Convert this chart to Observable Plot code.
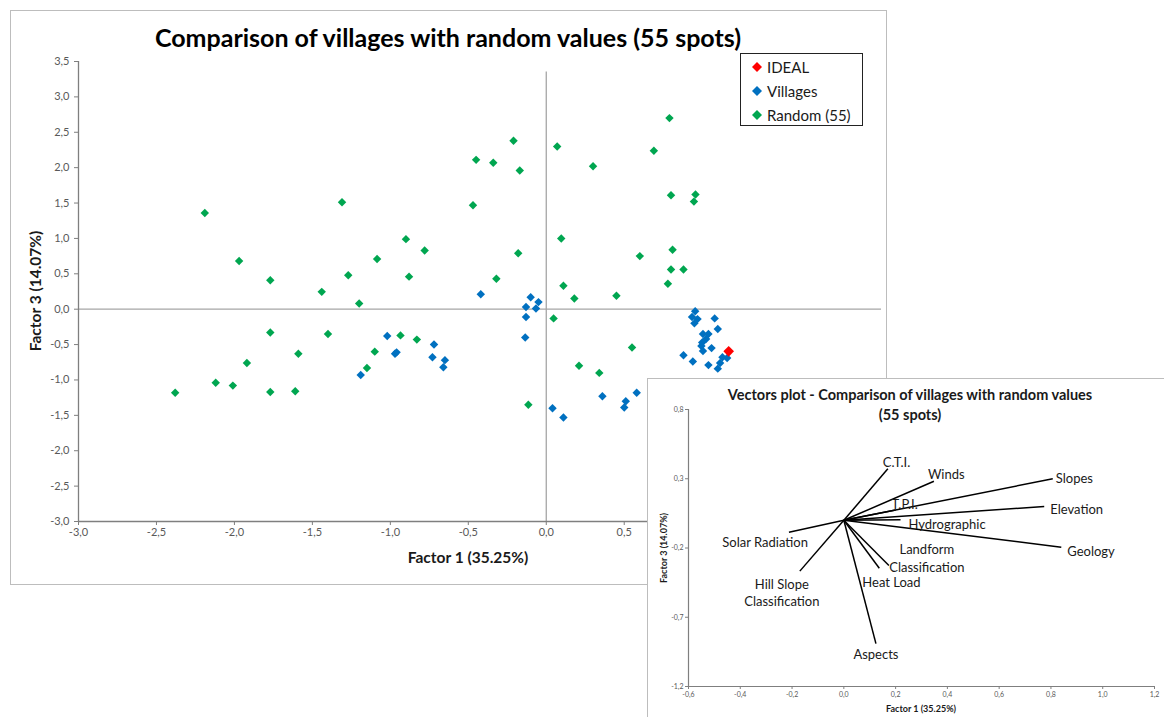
<!DOCTYPE html>
<html>
<head>
<meta charset="utf-8">
<script src="https://cdn.jsdelivr.net/npm/d3@7"></script>
<script src="https://cdn.jsdelivr.net/npm/@observablehq/plot@0.6"></script>
<style>
  html, body { margin: 0; padding: 0; background: #fff; }
  body { position: relative; width: 1164px; height: 717px; overflow: hidden; font-family: Lato, "Noto Sans", sans-serif; }
  .abs { position: absolute; white-space: nowrap; }
  .center { transform: translate(-50%, -50%); }
  #mainBox { position: absolute; left: 10px; top: 10px; width: 877px; height: 575px; box-sizing: border-box; border: 1.5px solid #bdbdbd; }
  #mainTitle { font-weight: 700; font-size: 25px; color: #000; }
  .axisTitle { font-weight: 700; font-size: 15.5px; color: #1a1a1a; }
  #legend { position: absolute; left: 740px; top: 53px; width: 123px; height: 73px; box-sizing: border-box; border: 1px solid #222; background: #fff; font-size: 15px; color: #1a1a1a; }
  #legend .row { position: absolute; left: 11px; height: 16px; line-height: 16px; white-space: nowrap; }
  #legend svg { position: absolute; left: 0; top: 3px; }
  #legend span { position: absolute; left: 15px; top: 0; white-space: nowrap; }
  #inset { position: absolute; left: 647px; top: 378px; width: 530px; height: 350px; box-sizing: border-box; border: 1.5px solid #bdbdbd; background: #fff; }
  #insetTitle { font-weight: 700; font-size: 14.5px; color: #1a1a1a; text-align: center; line-height: 20px; }
  .insetAxisTitle { font-weight: 700; font-size: 9px; color: #1a1a1a; }
  svg.plot { position: absolute; }
</style>
</head>
<body>
<div id="mainBox"></div>
<div id="mainTitle" class="abs center" style="left:448px; top:37px;">Comparison of villages with random values (55 spots)</div>
<div class="abs center axisTitle" style="left:468px; top:557px;">Factor 1 (35.25%)</div>
<div class="abs axisTitle" style="left:35px; top:291px; transform: translate(-50%, -50%) rotate(-90deg);">Factor 3 (14.07%)</div>
<div id="mainChart"></div>
<div id="legend"></div>
<div id="inset"></div>
<div id="insetTitle" class="abs center" style="left:910px; top:405px;">Vectors plot - Comparison of villages with random values<br>(55 spots)</div>
<div id="insetChart"></div>
<div class="abs center insetAxisTitle" style="left:921px; top:708px;">Factor 1 (35.25%)</div>
<div class="abs insetAxisTitle" style="left:663px; top:548px; transform: translate(-50%, -50%) rotate(-90deg);">Factor 3 (14.07%)</div>

<script>
// ---- Scatter of factor scores: Factor 1 (x) vs Factor 3 (y) ----
const seriesNames = ["IDEAL", "Villages", "Random (55)"];
const seriesColors = ["#ff0000", "#0070c0", "#00a650"];

const idealPoints = [[1.17, -0.595]];

const villagePoints = [
  [-1.02, -0.38], [-0.97, -0.63], [-0.96, -0.61], [-1.19, -0.93],
  [-0.72, -0.50], [-0.73, -0.68], [-0.65, -0.72], [-0.66, -0.82],
  [-0.42, 0.21], [-0.10, 0.17], [-0.05, 0.10], [-0.13, 0.03],
  [-0.066, 0.01], [-0.13, -0.11], [-0.135, -0.40],
  [0.04, -1.40], [0.11, -1.53], [0.36, -1.23], [0.58, -1.18],
  [0.51, -1.30], [0.50, -1.39],
  [0.955, -0.03], [0.935, -0.11], [0.97, -0.14], [0.95, -0.20],
  [1.08, -0.13], [1.10, -0.28], [1.04, -0.35], [1.005, -0.35],
  [1.025, -0.42], [1.00, -0.47], [0.995, -0.52], [1.06, -0.55],
  [1.005, -0.59], [0.88, -0.65], [0.94, -0.74], [1.04, -0.79],
  [1.10, -0.84], [1.115, -0.76], [1.13, -0.68], [1.16, -0.69]
];

const randomPoints = [
  [-2.19, 1.36], [-1.97, 0.68], [-1.77, 0.41], [-1.77, -0.33],
  [-1.59, -0.63], [-1.92, -0.76], [-2.12, -1.04], [-2.01, -1.08],
  [-2.38, -1.18], [-1.77, -1.17], [-1.61, -1.16], [-1.31, 1.51],
  [-1.44, 0.245], [-1.27, 0.48], [-1.20, 0.08], [-1.085, 0.71],
  [-0.90, 0.99], [-0.88, 0.46], [-0.78, 0.83], [-1.40, -0.35],
  [-0.47, 1.47], [-0.45, 2.11], [-0.34, 2.07], [-0.21, 2.38],
  [-0.17, 1.96], [-0.32, 0.43], [-0.18, 0.79], [0.07, 2.30],
  [0.30, 2.02], [0.096, 1.00], [0.11, 0.33], [0.18, 0.15],
  [0.047, -0.13], [0.79, 2.70], [0.69, 2.24], [0.80, 1.61],
  [0.957, 1.62], [0.947, 1.52], [0.60, 0.75], [0.81, 0.84],
  [0.80, 0.56], [0.88, 0.56], [0.78, 0.36], [0.45, 0.19],
  [0.55, -0.54], [0.21, -0.80], [0.34, -0.90], [-0.935, -0.37],
  [-0.83, -0.43], [-1.10, -0.60], [-1.15, -0.83], [-0.115, -1.35]
];

// tick labels of the x axis that are not covered by the vectors plot
const mainXTicks = [-3.0, -2.5, -2.0, -1.5, -1.0, -0.5, 0.0, 0.5];
const mainYTicks = [-3.0, -2.5, -2.0, -1.5, -1.0, -0.5, 0.0, 0.5, 1.0, 1.5, 2.0, 2.5, 3.0, 3.5];

// ---- Vectors plot: loadings on Factor 1 / Factor 3 ----
const vectorNames = [
  "C.T.I.", "Winds", "Slopes", "T.P.I.", "Elevation", "Hydrographic",
  "Geology", "Solar Radiation", "Hill Slope\nClassification", "Heat Load",
  "Landform\nClassification", "Aspects"
];
const vectorF1 = [0.17, 0.348, 0.807, 0.20, 0.774, 0.219, 0.84, -0.212, -0.17, 0.137, 0.174, 0.124];
const vectorF3 = [0.372, 0.282, 0.30, 0.075, 0.10, 0.004, -0.194, -0.086, -0.367, -0.346, -0.326, -0.89];

const insetXTicks = [-0.6, -0.4, -0.2, 0.0, 0.2, 0.4, 0.6, 0.8, 1.0, 1.2];
const insetYTicks = [0.8, 0.3, -0.2, -0.7, -1.2];

// label placement next to each arrow tip (pixels)
const labelPlacement = {
  "C.T.I.": {anchor: "start", dx: -5, dy: -7},
  "Winds": {anchor: "start", dx: -6, dy: -8},
  "Slopes": {anchor: "start", dx: 3, dy: -1},
  "T.P.I.": {anchor: "start", dx: -4, dy: -6},
  "Elevation": {anchor: "start", dx: 6, dy: 2},
  "Hydrographic": {anchor: "start", dx: 8, dy: 4},
  "Geology": {anchor: "start", dx: 6, dy: 3},
  "Solar Radiation": {anchor: "end", dx: 19, dy: 9},
  "Hill Slope\nClassification": {anchor: "middle", dx: -18, dy: 21},
  "Heat Load": {anchor: "start", dx: -17, dy: 13},
  "Landform\nClassification": {anchor: "middle", dx: 38, dy: -8},
  "Aspects": {anchor: "middle", dx: 0, dy: 10}
};

const fmt = d => (Math.round(d * 10) / 10).toFixed(1).replace(".", ",");
const fontStack = "Lato, 'Noto Sans', sans-serif";

const toRows = pts => pts.map(([x, y]) => ({x, y}));

// Main scatter chart
const main = Plot.plot({
  width: 877,
  height: 575,
  marginLeft: 68,
  marginRight: 6,
  marginTop: 51,
  marginBottom: 64,
  style: {fontFamily: fontStack, fontSize: "11px", color: "#595959", background: "none"},
  x: {domain: [-3, 2.15]},
  y: {domain: [-3, 3.5]},
  marks: [
    Plot.ruleY([0], {x1: -3, x2: 2.15, stroke: "#a6a6a6", strokeWidth: 1.3}),
    Plot.ruleX([0], {y1: -3, y2: 3.35, stroke: "#a6a6a6", strokeWidth: 1.3}),
    Plot.ruleX([-3], {y1: -3, y2: 3.5, stroke: "#7f7f7f", strokeWidth: 1.3}),
    Plot.ruleY([-3], {x1: -3, x2: 2.15, stroke: "#7f7f7f", strokeWidth: 1.3}),
    Plot.axisY({ticks: mainYTicks, tickFormat: fmt, tickSize: 4, tickPadding: 5, label: null, stroke: "#7f7f7f", fill: "#595959"}),
    Plot.axisX({ticks: mainXTicks, tickFormat: fmt, tickSize: 4, tickPadding: 3, label: null, stroke: "#7f7f7f", fill: "#595959"}),
    Plot.dot(toRows(randomPoints), {x: "x", y: "y", symbol: "diamond2", r: 3.8, fill: seriesColors[2], stroke: "none"}),
    Plot.dot(toRows(villagePoints), {x: "x", y: "y", symbol: "diamond2", r: 3.8, fill: seriesColors[1], stroke: "none"}),
    Plot.dot(toRows(idealPoints), {x: "x", y: "y", symbol: "diamond2", r: 4.8, fill: seriesColors[0], stroke: "none"})
  ]
});
main.classList.add("plot");
main.style.left = "10px";
main.style.top = "10px";
document.getElementById("mainChart").appendChild(main);

// Legend of the three series
const legend = document.getElementById("legend");
seriesNames.forEach((name, i) => {
  const row = document.createElement("div");
  row.className = "row";
  row.style.top = (5 + i * 24) + "px";
  row.innerHTML = `<svg width="10" height="10"><path d="M5,0L10,5L5,10L0,5Z" fill="${seriesColors[i]}"/></svg><span>${name}</span>`;
  legend.appendChild(row);
});

// Inset vectors plot
const vectors = vectorNames.map((name, i) => ({name, x: vectorF1[i], y: vectorF3[i]}));
const labelMarks = vectors.map(v => {
  const p = labelPlacement[v.name];
  return Plot.text([v], {
    x: "x", y: "y", text: "name",
    textAnchor: p.anchor, dx: p.dx, dy: p.dy,
    lineAnchor: "middle", lineHeight: 1.33,
    fontSize: 13, fill: "#1a1a1a"
  });
});

const inset = Plot.plot({
  width: 517,
  height: 339,
  marginLeft: 41,
  marginRight: 10,
  marginTop: 31,
  marginBottom: 31,
  style: {fontFamily: fontStack, fontSize: "7px", color: "#595959", background: "none"},
  x: {domain: [-0.6, 1.2]},
  y: {domain: [-1.2, 0.8]},
  marks: [
    Plot.ruleX([-0.6], {y1: -1.2, y2: 0.8, stroke: "#7f7f7f", strokeWidth: 1.2}),
    Plot.ruleY([-1.2], {x1: -0.6, x2: 1.2, stroke: "#7f7f7f", strokeWidth: 1.2}),
    Plot.axisY({ticks: insetYTicks, tickFormat: fmt, tickSize: 3, tickPadding: 2, label: null, stroke: "#7f7f7f", fill: "#595959"}),
    Plot.axisX({ticks: insetXTicks, tickFormat: fmt, tickSize: 3, tickPadding: 3, label: null, stroke: "#7f7f7f", fill: "#595959"}),
    Plot.link(vectors, {x1: () => 0, y1: () => 0, x2: "x", y2: "y", stroke: "#000", strokeWidth: 1.5}),
    ...labelMarks
  ]
});
inset.classList.add("plot");
inset.style.left = "647px";
inset.style.top = "378px";
document.getElementById("insetChart").appendChild(inset);
</script>
</body>
</html>
